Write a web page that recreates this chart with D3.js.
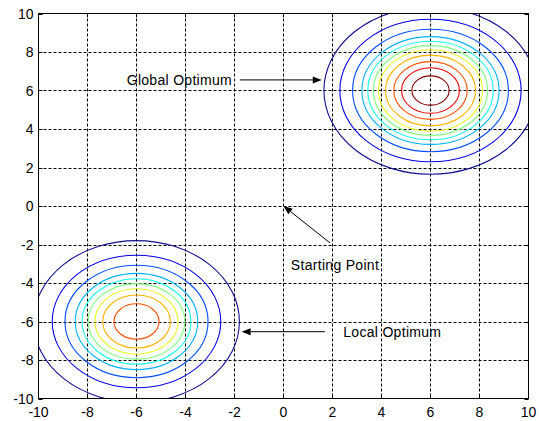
<!DOCTYPE html>
<html>
<head>
<meta charset="utf-8">
<script src="https://cdn.jsdelivr.net/npm/d3@7"></script>
<style>
  html, body { margin: 0; padding: 0; background: #fff; }
  svg { display: block; }
  text { font-family: "Liberation Sans", Arial, sans-serif; font-size: 14px; fill: #000; }
  .ann text { letter-spacing: 0.3px; }
</style>
</head>
<body>
<svg id="chart" width="539" height="421"></svg>
<script>
// ---- data ----
const xTicks = [-10, -8, -6, -4, -2, 0, 2, 4, 6, 8, 10];
const yTicks = [-10, -8, -6, -4, -2, 0, 2, 4, 6, 8, 10];
const globalCenter = [6, 6];
const globalRadii = [4.35, 3.7, 3.18, 2.8, 2.56, 2.33, 2.12, 1.84, 1.5, 1.18, 0.76];
const localCenter = [-6, -6];
const localRadii = [4.2, 3.44, 2.92, 2.5, 2.22, 1.97, 1.7, 1.38, 0.92];
const levelColors = ["#10108f", "#0000e6", "#004dff", "#00b3ff", "#1affe6", "#80ff80",
                     "#e6ff1a", "#ffb300", "#ff4d00", "#e60000", "#800000"];
const annotations = [
  { label: "Global Optimum", from: [-1.78, 6.55], to: [1.56, 6.55], anchor: "end",   textAt: [-2.1, 6.55] },
  { label: "Starting Point", from: [1.9, -1.92],  to: [0, 0],       anchor: "start", textAt: [0.3, -3.05] },
  { label: "Local Optimum",  from: [1.69, -6.53], to: [-1.71, -6.53], anchor: "start", textAt: [2.44, -6.53] }
];

// ---- layout ----
const svg = d3.select("#chart");
const x = d3.scaleLinear().domain([-10, 10]).range([38.5, 528.5]);
const y = d3.scaleLinear().domain([-10, 10]).range([398.5, 13.5]);

svg.append("defs").append("clipPath").attr("id", "plotclip")
  .append("rect").attr("x", x(-10)).attr("y", y(10))
  .attr("width", x(10) - x(-10)).attr("height", y(-10) - y(10));

// grid
const grid = svg.append("g");
grid.selectAll("line.vx").data(xTicks.slice(1, -1)).join("line")
  .attr("x1", d => x(d)).attr("x2", d => x(d))
  .attr("y1", y(10)).attr("y2", y(-10))
  .attr("stroke", "#000").attr("stroke-width", 1).attr("stroke-dasharray", "3,2");
grid.selectAll("line.hy").data(yTicks.slice(1, -1)).join("line")
  .attr("y1", d => Math.round(y(d)) + 0.5).attr("y2", d => Math.round(y(d)) + 0.5)
  .attr("x1", x(-10)).attr("x2", x(10))
  .attr("stroke", "#000").attr("stroke-width", 1).attr("stroke-dasharray", "3,2");

// contours
const contours = svg.append("g").attr("clip-path", "url(#plotclip)");
function drawPeak(center, radii) {
  contours.append("g").selectAll("ellipse").data(radii).join("ellipse")
    .attr("cx", x(center[0])).attr("cy", y(center[1]))
    .attr("rx", r => x(center[0] + r) - x(center[0]))
    .attr("ry", r => y(center[1]) - y(center[1] + r))
    .attr("fill", "none")
    .attr("stroke", (r, i) => levelColors[i])
    .attr("stroke-width", 1.1);
}
drawPeak(globalCenter, globalRadii);
drawPeak(localCenter, localRadii);

// frame
svg.append("rect").attr("x", x(-10)).attr("y", y(10))
  .attr("width", x(10) - x(-10)).attr("height", y(-10) - y(10))
  .attr("fill", "none").attr("stroke", "#000").attr("stroke-width", 1);

// ticks (inward, all four sides)
const tk = 4;
const ticks = svg.append("g").attr("stroke", "#000").attr("stroke-width", 1);
xTicks.forEach(d => {
  ticks.append("line").attr("x1", x(d)).attr("x2", x(d)).attr("y1", y(-10)).attr("y2", y(-10) - tk);
  ticks.append("line").attr("x1", x(d)).attr("x2", x(d)).attr("y1", y(10)).attr("y2", y(10) + tk);
});
yTicks.forEach(d => {
  const yy = Math.round(y(d)) + 0.5;
  ticks.append("line").attr("y1", yy).attr("y2", yy).attr("x1", x(-10)).attr("x2", x(-10) + tk);
  ticks.append("line").attr("y1", yy).attr("y2", yy).attr("x1", x(10)).attr("x2", x(10) - tk);
});

// tick labels
svg.append("g").selectAll("text").data(xTicks).join("text")
  .attr("x", d => x(d)).attr("y", 416.5).attr("text-anchor", "middle").text(d => d);
svg.append("g").selectAll("text").data(yTicks).join("text")
  .attr("x", 33.5).attr("y", d => y(d) + 5).attr("text-anchor", "end").text(d => d);

// annotations with arrows
const ann = svg.append("g").attr("class", "ann");
function arrow(from, to) {
  const x1 = x(from[0]), y1 = y(from[1]), x2 = x(to[0]), y2 = y(to[1]);
  const ang = Math.atan2(y2 - y1, x2 - x1);
  const L = 9, W = 3.5;
  const bx = x2 - L * Math.cos(ang), by = y2 - L * Math.sin(ang);
  ann.append("line").attr("x1", x1).attr("y1", y1).attr("x2", bx).attr("y2", by)
    .attr("stroke", "#000").attr("stroke-width", 1);
  const px = -Math.sin(ang) * W, py = Math.cos(ang) * W;
  ann.append("path")
    .attr("d", `M${x2},${y2}L${bx + px},${by + py}L${bx - px},${by - py}Z`)
    .attr("fill", "#000");
}
annotations.forEach(a => {
  arrow(a.from, a.to);
  ann.append("text").attr("x", x(a.textAt[0])).attr("y", y(a.textAt[1]) + 5)
    .attr("text-anchor", a.anchor).text(a.label);
});
</script>
</body>
</html>
